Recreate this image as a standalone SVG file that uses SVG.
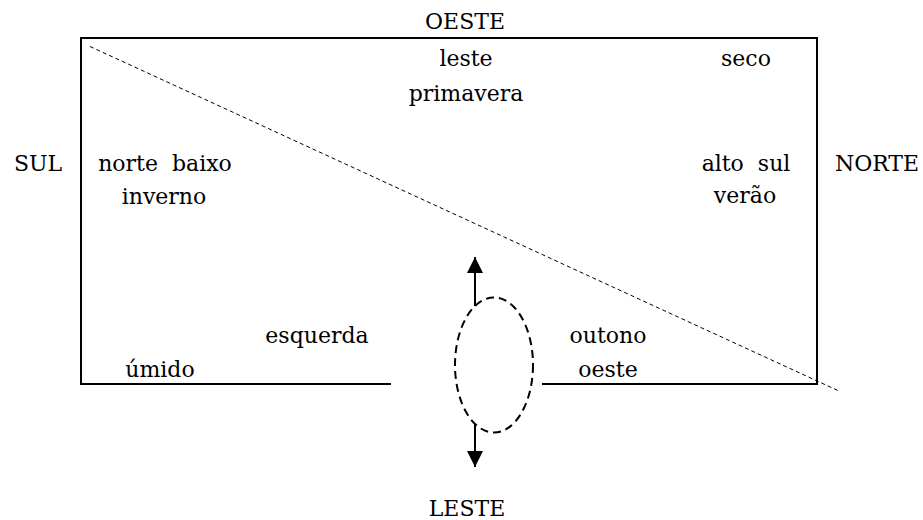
<svg xmlns="http://www.w3.org/2000/svg" width="923" height="520" viewBox="0 0 923 520">
<style>
text{font-family:"DejaVu Serif","Liberation Serif",serif;font-size:22px;fill:#000;text-anchor:middle}
.frame{fill:none;stroke:#000;stroke-width:2}
.diag{fill:none;stroke:#000;stroke-width:1;stroke-dasharray:4 3}
.ell{fill:none;stroke:#000;stroke-width:2;stroke-dasharray:8 5}
.arr{fill:none;stroke:#000;stroke-width:2}
</style>
<defs>
<marker id="ahead" viewBox="0 0 16 16" refX="16" refY="8" markerWidth="16" markerHeight="16" markerUnits="userSpaceOnUse" orient="auto">
<path d="M0,0 L16,8 L0,16 Z" fill="#000"/>
</marker>
</defs>
<g id="frame">
<path class="frame" d="M391,384 H81 V38 H817 V384 H542"/>
</g>
<g id="connectors">
<line class="diag" x1="90" y1="46.5" x2="840" y2="391.5"/>
<line class="arr" x1="475" y1="306" x2="475" y2="257" marker-end="url(#ahead)"/>
<line class="arr" x1="475" y1="424" x2="475" y2="467" marker-end="url(#ahead)"/>
</g>
<g id="ellipse">
<ellipse class="ell" cx="494" cy="365" rx="39" ry="67.5"/>
</g>
<g id="labels">
<text x="465" y="29">OESTE</text>
<text x="466" y="66">leste</text>
<text x="466" y="101">primavera</text>
<text x="746" y="66">seco</text>
<text x="38" y="171">SUL</text>
<text x="165" y="171" xml:space="preserve">norte  baixo</text>
<text x="164" y="204">inverno</text>
<text x="746" y="171" xml:space="preserve">alto  sul</text>
<text x="745" y="203">verão</text>
<text x="877" y="171">NORTE</text>
<text x="317" y="343">esquerda</text>
<text x="160" y="377">úmido</text>
<text x="608" y="343">outono</text>
<text x="608" y="377">oeste</text>
<text x="467" y="516">LESTE</text>
</g>
</svg>
